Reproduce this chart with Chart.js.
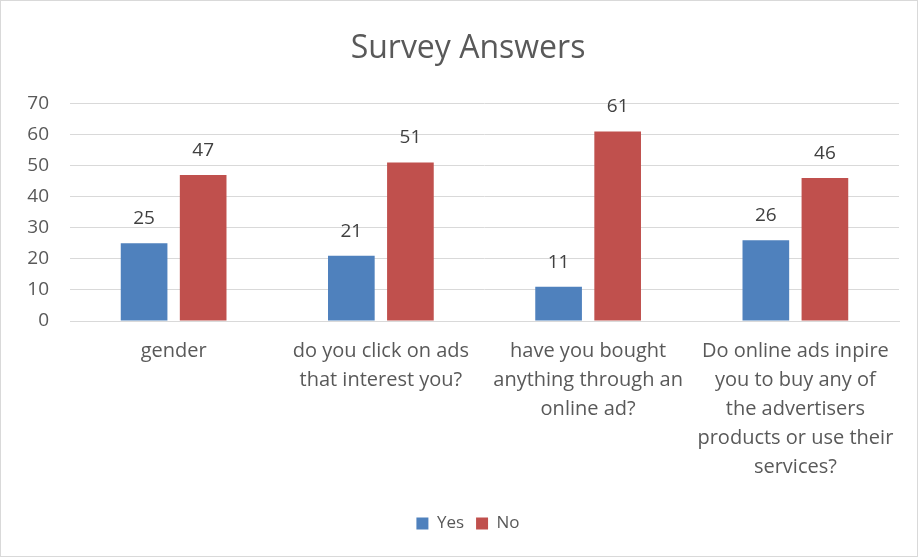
<!DOCTYPE html>
<html>
<head>
<meta charset="utf-8">
<script src="https://cdn.jsdelivr.net/npm/chart.js@4"></script>
<style>
  html, body { margin: 0; padding: 0; background: #fff; }
  #wrap { position: relative; width: 916px; height: 555px; border: 1px solid #d9d9d9; }
</style>
</head>
<body>
<div id="wrap"><canvas id="chart" width="916" height="555"></canvas></div>
<script>
// データ
const categories = [
  'gender',
  ['do you click on ads', 'that interest you?'],
  ['have you bought', 'anything through an', 'online ad?'],
  ['Do online ads inpire', 'you to buy any of', 'the advertisers', 'products or use their', 'services?']
];
const yesValues = [25, 21, 11, 26];
const noValues = [47, 51, 61, 46];
const yTicks = [0, 10, 20, 30, 40, 50, 60, 70];

const textColor = '#595959';
const fontFamily = '"Open Sans", sans-serif';

// 棒の上に値を描くプラグイン
const valueLabels = {
  id: 'valueLabels',
  afterDatasetsDraw(chart) {
    const ctx = chart.ctx;
    ctx.save();
    ctx.font = '19px ' + fontFamily;
    ctx.fillStyle = '#404040';
    ctx.textAlign = 'center';
    ctx.textBaseline = 'alphabetic';
    chart.data.datasets.forEach((ds, i) => {
      chart.getDatasetMeta(i).data.forEach((bar, j) => {
        ctx.fillText(ds.data[j], bar.x, bar.y - 19);
      });
    });
    ctx.restore();
  }
};

new Chart(document.getElementById('chart').getContext('2d'), {
  type: 'bar',
  data: {
    labels: categories,
    datasets: [
      { label: 'Yes', data: yesValues, backgroundColor: '#4F81BD' },
      { label: 'No', data: noValues, backgroundColor: '#C0504D' }
    ]
  },
  options: {
    responsive: false,
    animation: false,
    categoryPercentage: 0.57,
    barPercentage: 0.79,
    layout: { padding: { top: 20, right: 0, bottom: 14, left: 18 } },
    plugins: {
      title: {
        display: true,
        text: 'Survey Answers',
        color: textColor,
        font: { family: fontFamily, size: 32, weight: 'normal' },
        padding: { top: 9, bottom: 35 }
      },
      legend: {
        position: 'bottom',
        labels: {
          color: textColor,
          boxWidth: 12,
          boxHeight: 12,
          padding: 12,
          font: { family: fontFamily, size: 17 }
        }
      },
      tooltip: { enabled: false }
    },
    scales: {
      x: {
        grid: { display: false },
        border: { color: '#d9d9d9' },
        ticks: {
          color: textColor,
          padding: 8,
          maxRotation: 0,
          autoSkip: false,
          font: { family: fontFamily, size: 20, lineHeight: 1.45 }
        },
        afterFit(scale) { scale.height = 182; }
      },
      y: {
        min: 0,
        max: 70,
        afterBuildTicks(scale) { scale.ticks = yTicks.map(v => ({ value: v })); },
        grid: { color: '#d9d9d9', drawTicks: false },
        border: { display: false },
        ticks: {
          color: textColor,
          padding: 21,
          font: { family: fontFamily, size: 19 }
        },
        afterFit(scale) { scale.width = 51; }
      },
      // 右側の余白用（何も描かない）
      yRight: {
        type: 'linear',
        position: 'right',
        grid: { display: false },
        border: { display: false },
        ticks: { display: false },
        afterFit(scale) { scale.width = 18; }
      }
    }
  },
  plugins: [valueLabels]
});
</script>
</body>
</html>
